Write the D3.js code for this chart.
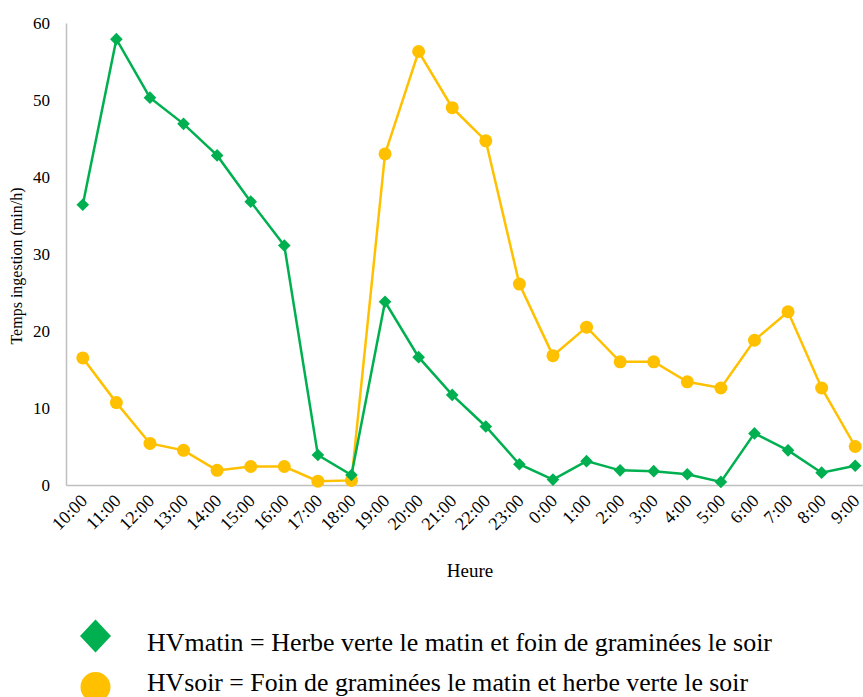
<!DOCTYPE html>
<html>
<head>
<meta charset="utf-8">
<script src="https://cdn.jsdelivr.net/npm/d3@7"></script>
<style>
  body { margin: 0; background: #fff; }
  svg text { font-family: "Liberation Serif", "Times New Roman", Times, "DejaVu Serif", serif !important; fill: #000; }
</style>
</head>
<body>
<script>
// Hours on the x axis
var heures = ["10:00","11:00","12:00","13:00","14:00","15:00","16:00","17:00","18:00","19:00",
              "20:00","21:00","22:00","23:00","0:00","1:00","2:00","3:00","4:00","5:00",
              "6:00","7:00","8:00","9:00"];

// HVmatin values (min/h)
var hvMatin = [36.4, 57.9, 50.3, 46.9, 42.8, 36.8, 31.1, 3.9, 1.3, 23.8,
               16.6, 11.7, 7.6, 2.7, 0.7, 3.1, 1.9, 1.8, 1.4, 0.4,
               6.7, 4.5, 1.6, 2.5];

// HVsoir values (min/h)
var hvSoir = [16.5, 10.7, 5.4, 4.5, 1.9, 2.4, 2.4, 0.5, 0.6, 43.0,
              56.3, 49.0, 44.7, 26.1, 16.8, 20.5, 16.0, 16.0, 13.4, 12.6,
              18.8, 22.5, 12.6, 5.0];

var yTicks = [0, 10, 20, 30, 40, 50, 60];

var W = 863, H = 697;
var x0 = 66, x1 = 872, yTop = 23, yBot = 485;

var svg = d3.select("body").append("svg")
    .attr("width", W)
    .attr("height", H);

// scales
var x = d3.scalePoint()
    .domain(heures)
    .range([x0, x1])
    .padding(0.5);

var y = d3.scaleLinear()
    .domain([0, 60])
    .range([yBot, yTop]);

// y axis
var yAxis = svg.append("g")
    .attr("transform", `translate(${x0},0)`)
    .call(d3.axisLeft(y).tickValues(yTicks).tickSize(0).tickPadding(16));
yAxis.attr("font-family", null);
yAxis.select(".domain").attr("stroke", "#bfbfbf").attr("stroke-width", 1.5);
yAxis.selectAll("text")
    .style("font-size", "17px");

// x axis
var xAxis = svg.append("g")
    .attr("transform", `translate(0,${yBot})`)
    .call(d3.axisBottom(x).tickSize(0).tickSizeOuter(0));
xAxis.attr("font-family", null);
xAxis.select(".domain").attr("stroke", "#bfbfbf").attr("stroke-width", 1.5);
xAxis.selectAll("text")
    .style("font-size", "18px")
    .attr("text-anchor", "end")
    .attr("dy", null)
    .attr("y", 0)
    .attr("transform", "translate(5,17) rotate(-45)");

// axis titles
svg.append("text")
    .attr("x", 470)
    .attr("y", 577)
    .attr("text-anchor", "middle")
    .style("font-size", "19px")
    .text("Heure");

svg.append("text")
    .attr("transform", "translate(22,266) rotate(-90)")
    .attr("text-anchor", "middle")
    .style("font-size", "16px")
    .text("Temps ingestion (min/h)");

var line = d3.line()
    .x((d, i) => x(heures[i]))
    .y(d => y(d));

// HVsoir
svg.append("path")
    .datum(hvSoir)
    .attr("fill", "none")
    .attr("stroke", "#ffc000")
    .attr("stroke-width", 2.5)
    .attr("d", line);

svg.append("g").selectAll("circle")
    .data(hvSoir)
    .enter().append("circle")
    .attr("cx", (d, i) => x(heures[i]))
    .attr("cy", d => y(d))
    .attr("r", 6.5)
    .attr("fill", "#ffc000");

// HVmatin
svg.append("path")
    .datum(hvMatin)
    .attr("fill", "none")
    .attr("stroke", "#00b050")
    .attr("stroke-width", 2.5)
    .attr("d", line);

var diamond = d3.symbol().type(d3.symbolSquare).size(80);
svg.append("g").selectAll("path")
    .data(hvMatin)
    .enter().append("path")
    .attr("d", diamond)
    .attr("transform", (d, i) => `translate(${x(heures[i])},${y(d)}) rotate(45)`)
    .attr("fill", "#00b050");

// legend
var legend = svg.append("g");
legend.append("path")
    .attr("d", "M0,-16.5 L15.5,0 L0,16.5 L-15.5,0 Z")
    .attr("transform", "translate(95.5,636)")
    .attr("fill", "#00b050");
legend.append("circle")
    .attr("cx", 95.5)
    .attr("cy", 687)
    .attr("r", 15)
    .attr("fill", "#ffc000");

legend.append("text")
    .attr("x", 147)
    .attr("y", 651)
    .attr("textLength", 625)
    .attr("lengthAdjust", "spacingAndGlyphs")
    .style("font-size", "25px")
    .text("HVmatin = Herbe verte le matin et foin de graminées le soir");

legend.append("text")
    .attr("x", 147)
    .attr("y", 691)
    .attr("textLength", 601)
    .attr("lengthAdjust", "spacingAndGlyphs")
    .style("font-size", "25px")
    .text("HVsoir = Foin de graminées le matin et herbe verte le soir");
</script>
</body>
</html>
